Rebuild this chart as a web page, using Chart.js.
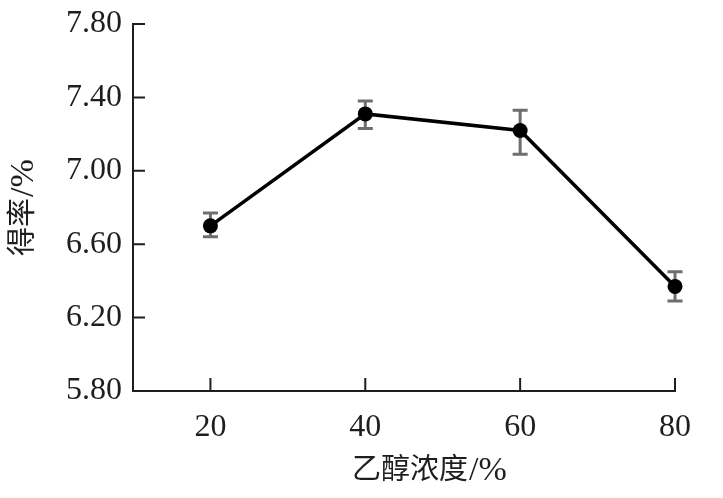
<!DOCTYPE html>
<html>
<head>
<meta charset="utf-8">
<script src="https://cdn.jsdelivr.net/npm/chart.js@4"></script>
<style>
  html, body { margin: 0; padding: 0; background: #ffffff; }
  #wrap { width: 723px; height: 498px; position: relative; }
</style>
</head>
<body>
<div id="wrap"><canvas id="c"></canvas></div>
<script>
// ---- data ----
const concentrations = [20, 40, 60, 80];          // 乙醇浓度 / %
const yields = [6.70, 7.31, 7.22, 6.37];          // 得率 / %
const errUpper = [6.77, 7.38, 7.33, 6.45];        // error bar top
const errLower = [6.64, 7.23, 7.09, 6.29];        // error bar bottom
const xTickValues = [20, 40, 60, 80];
const yTickValues = [5.80, 6.20, 6.60, 7.00, 7.40, 7.80];
const xTitleMain = '乙醇浓度';
const yTitleMain = '得率';
const titleUnit = '/%';

const FONT = '"Liberation Serif", "Noto Sans CJK SC", serif';
const AXIS_COLOR = '#1e1e1e';

const errorBarsPlugin = {
  id: 'errorBars',
  beforeDatasetsDraw(chart) {
    const { ctx, scales: { x, y } } = chart;
    ctx.save();
    ctx.strokeStyle = '#6e6e6e';
    ctx.lineWidth = 3;
    const cap = 7.5;
    concentrations.forEach((c, i) => {
      const px = x.getPixelForValue(c);
      const top = y.getPixelForValue(errUpper[i]);
      const bot = y.getPixelForValue(errLower[i]);
      ctx.beginPath();
      ctx.moveTo(px, top); ctx.lineTo(px, bot);
      ctx.moveTo(px - cap, top); ctx.lineTo(px + cap, top);
      ctx.moveTo(px - cap, bot); ctx.lineTo(px + cap, bot);
      ctx.stroke();
    });
    ctx.restore();
  }
};

function drawTitle(ctx, main, unit, x, y) {
  ctx.textAlign = 'left';
  ctx.textBaseline = 'alphabetic';
  ctx.font = '29px ' + FONT;
  ctx.fillText(main, x, y);
  const w = ctx.measureText(main).width;
  ctx.font = '34px ' + FONT;
  ctx.fillText(unit, x + w + 1, y + 1);
}

const innerTicksPlugin = {
  id: 'innerTicks',
  afterDraw(chart) {
    const { ctx, chartArea, scales: { x, y } } = chart;
    ctx.save();
    ctx.strokeStyle = AXIS_COLOR;
    ctx.lineWidth = 2;
    ctx.beginPath();
    yTickValues.forEach(v => {
      const py = y.getPixelForValue(v);
      if (Math.abs(py - chartArea.bottom) < 1) return;
      ctx.moveTo(chartArea.left, py); ctx.lineTo(chartArea.left + 12, py);
    });
    xTickValues.forEach(v => {
      const px = x.getPixelForValue(v);
      ctx.moveTo(px, chartArea.bottom); ctx.lineTo(px, chartArea.bottom - 13);
    });
    ctx.stroke();
    // axis titles
    ctx.fillStyle = '#1e1e1e';
    drawTitle(ctx, xTitleMain, titleUnit, 352, 479);
    ctx.translate(32, 256);
    ctx.rotate(-Math.PI / 2);
    drawTitle(ctx, yTitleMain, titleUnit, 0, 0);
    ctx.restore();
  }
};

new Chart(document.getElementById('c'), {
  type: 'line',
  data: {
    datasets: [{
      data: concentrations.map((c, i) => ({ x: c, y: yields[i] })),
      borderColor: '#000000',
      borderWidth: 3.5,
      pointRadius: 7.5,
      pointBackgroundColor: '#000000',
      pointBorderColor: '#000000',
      pointBorderWidth: 0,
      tension: 0,
      fill: false,
      clip: false
    }]
  },
  options: {
    responsive: true,
    maintainAspectRatio: false,
    animation: false,
    events: [],
    layout: { padding: { top: 24, right: 48, left: 0, bottom: 0 } },
    plugins: { legend: { display: false }, tooltip: { enabled: false } },
    scales: {
      x: {
        type: 'linear',
        min: 10,
        max: 80,
        afterBuildTicks: s => { s.ticks = xTickValues.map(v => ({ value: v })); },
        afterFit: s => { s.height = 107; },
        grid: { display: false },
        border: { display: true, color: AXIS_COLOR, width: 2 },
        ticks: {
          color: '#1e1e1e',
          font: { family: FONT, size: 32 },
          padding: 9,
          maxRotation: 0,
          callback: v => String(v)
        }
      },
      y: {
        type: 'linear',
        min: 5.8,
        max: 7.8,
        afterBuildTicks: s => { s.ticks = yTickValues.map(v => ({ value: v })); },
        afterFit: s => { s.width = 133; },
        grid: { display: false },
        border: { display: true, color: AXIS_COLOR, width: 2 },
        ticks: {
          color: '#1e1e1e',
          font: { family: FONT, size: 32 },
          padding: 3,
          callback: v => Number(v).toFixed(2)
        }
      }
    }
  },
  plugins: [errorBarsPlugin, innerTicksPlugin]
});
</script>
</body>
</html>
